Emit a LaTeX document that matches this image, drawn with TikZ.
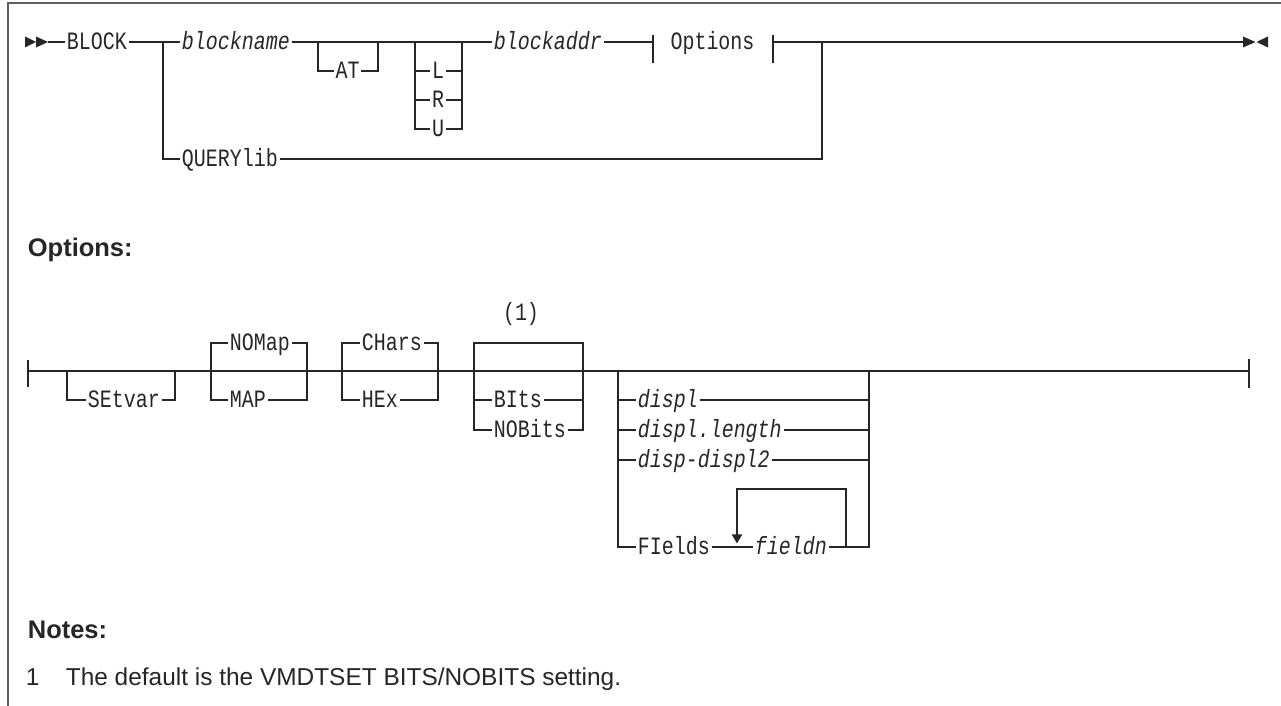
\documentclass[tikz,border=0pt]{standalone}
\usepackage{fontspec}
\setmainfont{Liberation Sans}
\setmonofont[FakeStretch=0.8]{Liberation Mono}
\usetikzlibrary{arrows.meta}
\definecolor{rail}{RGB}{38,38,38}
\definecolor{frame}{RGB}{95,95,95}

\begin{document}
\begin{tikzpicture}[
  line width=1pt,
  kw/.style={font=\ttfamily\fontsize{14.2}{16}\selectfont, text=rail, inner sep=0.6pt, text height=0.31cm, text depth=0pt},
  var/.style={kw, font=\ttfamily\itshape\fontsize{14.2}{16}\selectfont},
  head/.style={font=\bfseries\fontsize{14.5}{17}\selectfont, text=rail, anchor=base west, inner sep=0pt},
  note/.style={font=\fontsize{13.9}{16}\selectfont, text=rail, anchor=base west, inner sep=0pt}
]
\useasboundingbox (0,0) rectangle (25.620,14.120);
\draw[frame, line width=1.1pt] (0.160,0) -- (0.160,14.060) -- (25.620,14.060);

% BLOCK statement
\fill[rail] (0.500,13.390) -- (0.720,13.280) -- (0.500,13.170) -- cycle;
\fill[rail] (0.720,13.390) -- (0.960,13.280) -- (0.720,13.170) -- cycle;
\node[kw, anchor=west] (block) at (1.300,13.280) {BLOCK};
\node[var, anchor=west] (bname) at (3.600,13.280) {blockname};
\node[kw] (at) at (6.950,12.700) {AT};
\node[kw] (l) at (8.760,12.700) {L};
\node[kw] (r) at (8.760,12.120) {R};
\node[kw] (u) at (8.760,11.540) {U};
\node[var, anchor=west] (baddr) at (9.840,13.280) {blockaddr};
\node[kw] (opts) at (14.250,13.280) {Options};
\node[kw, anchor=west] (query) at (3.600,10.940) {QUERYlib};
\coordinate (split) at (3.260,13.280);
\coordinate (join) at (16.440,13.280);
\coordinate (stop) at (24.860,13.280);
\draw[rail] (0.960,13.280) -- (block.west);
\draw[rail] (block.east) -- (bname.west);
\draw[rail] (bname.east) -- (baddr.west);
\draw[rail] (6.360,13.280) |- (at.west);
\draw[rail] (at.east) -| (7.560,13.280);
\draw[rail] (8.300,13.280) |- (u.west);
\draw[rail] (u.east) -| (9.240,13.280);
\draw[rail] (8.300,12.700) -- (l.west);
\draw[rail] (l.east) -- (9.240,12.700);
\draw[rail] (8.300,12.120) -- (r.west);
\draw[rail] (r.east) -- (9.240,12.120);
\draw[rail] (baddr.east) -- (13.060,13.280);
\draw[rail] (13.060,13.420) -- (13.060,12.860);
\draw[rail] (15.460,13.420) -- (15.460,12.860);
\draw[rail] (15.460,13.280) -- (join) -- (stop);
\draw[rail] (split) |- (query.west);
\draw[rail] (query.east) -| (join);
\fill[rail] (24.860,13.390) -- (25.110,13.280) -- (24.860,13.170) -- cycle;
\fill[rail] (25.360,13.390) -- (25.130,13.280) -- (25.360,13.170) -- cycle;

% Options fragment
\node[head] (ohead) at (0.540,8.980) {Options:};
\coordinate (ostart) at (0.560,6.700);
\coordinate (oend) at (24.980,6.700);
\draw[rail] (0.560,6.920) -- (0.560,6.380);
\draw[rail] (24.980,6.940) -- (24.980,6.360);
\draw[rail] (ostart) -- (oend);
\node[kw, anchor=west] (setvar) at (1.720,6.120) {SEtvar};
\draw[rail] (1.340,6.700) |- (setvar.west);
\draw[rail] (setvar.east) -| (3.500,6.700);
\node[kw, anchor=west] (nomap) at (4.560,7.260) {NOMap};
\node[kw, anchor=west] (map) at (4.560,6.120) {MAP};
\draw[rail] (nomap.west) -| (4.220,6.120) -- (map.west);
\draw[rail] (nomap.east) -| (6.140,6.120) -- (map.east);
\node[kw, anchor=west] (chars) at (7.200,7.260) {CHars};
\node[kw, anchor=west] (hex) at (7.200,6.120) {HEx};
\draw[rail] (chars.west) -| (6.840,6.120) -- (hex.west);
\draw[rail] (chars.east) -| (8.760,6.120) -- (hex.east);
\node[kw] (fn1) at (10.420,7.860) {(1)};
\node[kw, anchor=west] (bits) at (9.840,6.120) {BIts};
\node[kw, anchor=west] (nobits) at (9.840,5.520) {NOBits};
\draw[rail] (nobits.west) -| (9.480,7.260) -| (11.660,5.520) -- (nobits.east);
\draw[rail] (9.480,6.120) -- (bits.west);
\draw[rail] (bits.east) -- (11.660,6.120);
\node[var, anchor=west] (displ) at (12.720,6.120) {displ};
\node[var, anchor=west] (dlen) at (12.720,5.520) {displ.length};
\node[var, anchor=west] (drange) at (12.720,4.920) {disp-displ2};
\node[kw, anchor=west] (fields) at (12.720,3.180) {FIelds};
\node[var, anchor=west] (fieldn) at (15.060,3.180) {fieldn};
\draw[rail] (12.360,6.700) |- (fields.west);
\draw[rail] (fields.east) -- (fieldn.west);
\draw[rail] (fieldn.east) -| (17.380,6.700);
\draw[rail] (12.360,6.120) -- (displ.west);
\draw[rail] (displ.east) -- (17.380,6.120);
\draw[rail] (12.360,5.520) -- (dlen.west);
\draw[rail] (dlen.east) -- (17.380,5.520);
\draw[rail] (12.360,4.920) -- (drange.west);
\draw[rail] (drange.east) -- (17.380,4.920);
\draw[rail, -{Triangle[width=0.2cm, length=0.18cm]}] (16.920,3.180) |- (14.740,4.340) -- (14.740,3.250);

% Notes
\node[head] (nhead) at (0.540,1.340) {Notes:};
\node[note] (n1) at (0.500,0.400) {1};
\node[note] (n1text) at (1.300,0.400) {The default is the VMDTSET BITS/NOBITS setting.};
\end{tikzpicture}
\end{document}
